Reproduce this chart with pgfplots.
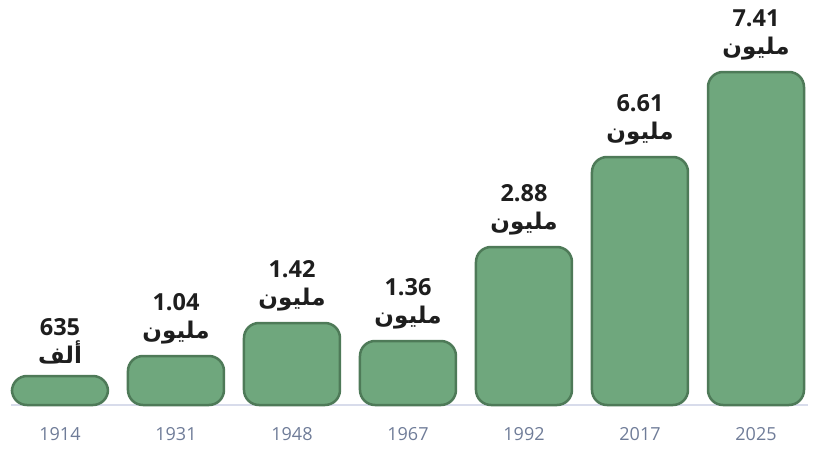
\documentclass[border=0pt]{standalone}
\usepackage{pgfplots}
\pgfplotsset{compat=1.18}
\usepackage{fontspec}
\setmainfont{Open Sans}
\newfontfamily\arabicfont[Script=Arabic]{DejaVu Sans}
\TeXXeTstate=1
\definecolor{barfill}{HTML}{6FA77D}
\definecolor{barline}{HTML}{4E7A58}
\definecolor{baseln}{HTML}{D8DCEB}
\definecolor{yr}{HTML}{6F7C98}
\definecolor{lbl}{HTML}{1E1E1E}
\DeclareRobustCommand{\lab}[2]{\textbf{#1}\\{\fontsize{23}{28}\arabicfont\bfseries\beginR #2\endR}}
\begin{document}
\begin{tikzpicture}
\begin{axis}[
  scale only axis, width=814pt, height=405pt,
  xmin=-0.517, xmax=6.5, ymin=0, ymax=405,
  clip=false,
  axis line style={draw=none},
  ytick=\empty,
  xtick=data,
  xticklabels={1914,1931,1948,1967,1992,2017,2025},
  major tick length=0pt,
  xticklabel style={font=\fontsize{18}{20}\selectfont, text=yr, yshift=-19pt},
  ybar, bar width=96pt,
  point meta=explicit symbolic,
  nodes near coords,
  nodes near coords style={anchor=south, align=center, text=lbl,
     font=\fontsize{23.5}{28}\selectfont, yshift=7pt},
]
\draw[baseln, line width=2pt] (axis cs:-0.42,0) -- (axis cs:6.45,0);
\addplot[fill=barfill, draw=barline, line width=2.5pt, rounded corners=15pt]
  coordinates {
  (0,29) [{\lab{635}{ألف}}]
  (1,49) [{\lab{1.04}{مليون}}]
  (2,82) [{\lab{1.42}{مليون}}]
  (3,64) [{\lab{1.36}{مليون}}]
  (4,158) [{\lab{2.88}{مليون}}]
  (5,248) [{\lab{6.61}{مليون}}]
  (6,333) [{\lab{7.41}{مليون}}]
  };
\end{axis}
\pgfresetboundingbox
\path[use as bounding box] (0,-51pt) rectangle (814pt,405pt);
\end{tikzpicture}
\end{document}
